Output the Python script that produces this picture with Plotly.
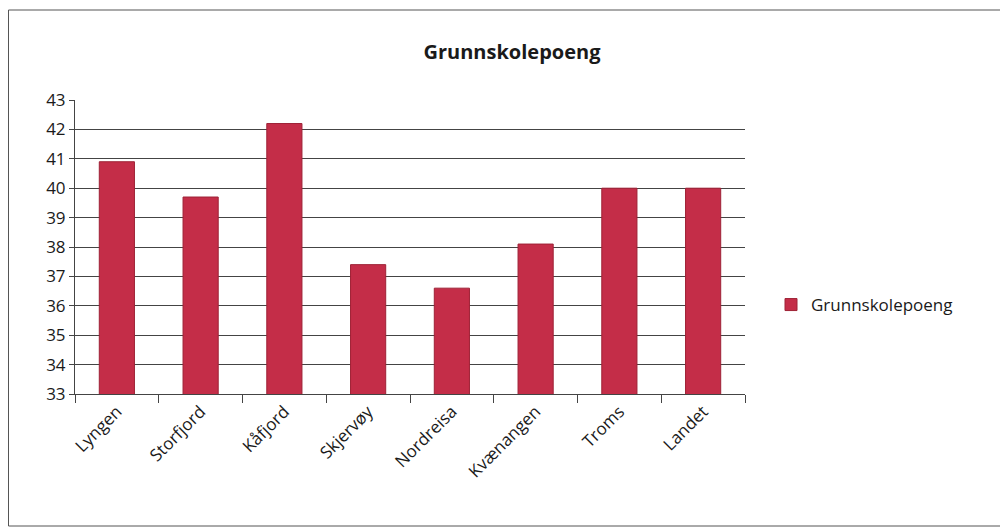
import plotly.graph_objects as go

categories = ["Lyngen", "Storfjord", "Kåfjord", "Skjervøy", "Nordreisa", "Kvænangen", "Troms", "Landet"]
values = [40.9, 39.7, 42.2, 37.4, 36.6, 38.1, 40.0, 40.0]
series_name = "Grunnskolepoeng"

# page body adds an 8px margin, so the figure is a little smaller than the window
W, H = 1000, 521
L, R, T, B = 67, 263, 92, 135
pw, ph = W - L - R, H - T - B


def px_x(x):
    return (x - L) / pw


def px_y(y):
    return (H - B - y) / ph


fig = go.Figure()
fig.add_trace(go.Bar(
    x=categories, y=values, name=series_name,
    marker=dict(color="#C42D48", line=dict(color="#9E2236", width=1)),
    showlegend=True,
))

fig.update_layout(
    width=W, height=H,
    margin=dict(l=L, r=R, t=T, b=B),
    paper_bgcolor="white", plot_bgcolor="white",
    font=dict(family="Open Sans, Lato, sans-serif", size=17, color="#1a1a1a"),
    title=dict(text="<b>" + series_name + "</b>", x=0.504, xanchor="center", y=1 - 44 / H,
               yanchor="middle", font=dict(size=20, color="#1a1a1a")),
    legend=dict(x=px_x(763), y=px_y(297), xanchor="left", yanchor="middle",
                font=dict(size=17), itemwidth=30),
    bargap=0.58,
    shapes=[dict(type="rect", xref="paper", yref="paper",
                 x0=px_x(0.5), x1=px_x(997), y0=px_y(518), y1=px_y(2),
                 line=dict(color="#555", width=1), layer="below")],
)
fig.update_yaxes(range=[33, 43], dtick=1, showgrid=True, gridcolor="#444", gridwidth=1,
                 showline=True, linecolor="#444", ticks="outside", ticklen=5, tickcolor="#444",
                 zeroline=False)
fig.update_xaxes(showline=True, linecolor="#444", ticks="outside", tickson="boundaries",
                 ticklen=8, tickcolor="#444", tickangle=-45, showgrid=False)

fig.write_html("out.html")
